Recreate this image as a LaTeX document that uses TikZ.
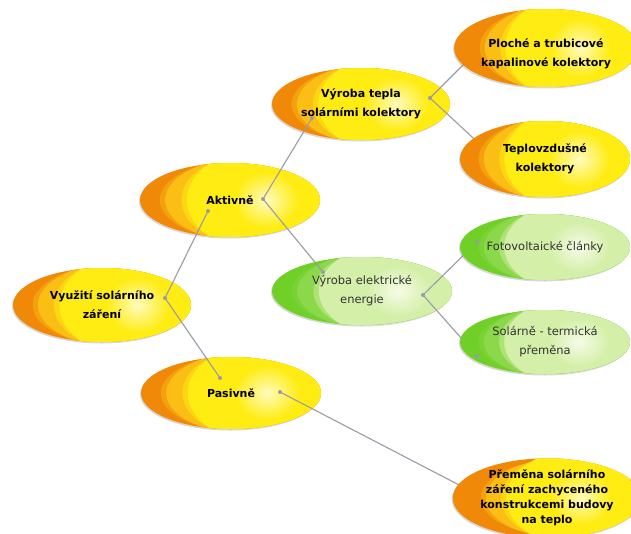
\documentclass[tikz,border=0pt]{standalone}
\usepackage{fontspec}
\setmainfont{DejaVu Sans}
\usetikzlibrary{%
  shapes.geometric,% wg. ellipse
  shadows%
}

\definecolor{sunorange}{RGB}{240,136,8}
\definecolor{sunamber}{RGB}{251,190,20}
\definecolor{sunyellow}{RGB}{255,236,18}
\definecolor{sunpale}{RGB}{255,251,190}
\definecolor{leafgreen}{RGB}{112,208,40}
\definecolor{leafpale}{RGB}{234,246,196}
\definecolor{linkgray}{RGB}{155,155,168}

% bands of a blob: width, height, then five colours from outside to inside
\newcommand{\blobfill}[7]{%
  \fill[#3] ([xshift=0.065*#1]path picture bounding box.center) ellipse [x radius=0.455*#1, y radius=0.54*#2];
  \fill[#4] ([xshift=0.08*#1]path picture bounding box.center) ellipse [x radius=0.44*#1, y radius=0.56*#2];
  \fill[#5] ([xshift=0.125*#1]path picture bounding box.center) ellipse [x radius=0.395*#1, y radius=0.62*#2];
  \fill[#6] ([xshift=0.14*#1]path picture bounding box.center) ellipse [x radius=0.38*#1, y radius=0.66*#2];
  \shade[inner color=#7, outer color=#6] ([xshift=0.2*#1]path picture bounding box.center) ellipse [x radius=0.18*#1, y radius=0.38*#2];
}

\begin{document}
\begin{tikzpicture}[x=1pt, y=-1pt,
  blob/.style={ellipse, inner sep=0pt, align=center,
    drop shadow={opacity=0.3, shadow xshift=-1pt, shadow yshift=-1.5pt}},
  sunnode/.style 2 args={blob, minimum width=#1, minimum height=#2,
    fill=sunorange, font=\fontsize{11}{19}\selectfont\bfseries,
    path picture={\blobfill{#1}{#2}{sunorange!55!sunamber}{sunamber}{sunamber!50!sunyellow}{sunyellow}{sunpale}}},
  leafnode/.style 2 args={blob, minimum width=#1, minimum height=#2,
    fill=leafgreen, text=black!80, font=\fontsize{11.5}{19}\selectfont,
    path picture={\blobfill{#1}{#2}{leafgreen!92!leafpale}{leafgreen!78!leafpale}{leafgreen!50!leafpale}{leafgreen!18!leafpale}{leafpale!40!white}}},
  link/.style={draw=linkgray, line width=1.1pt},
  knot/.style={circle, fill=linkgray, inner sep=0pt, minimum size=4pt}]

\useasboundingbox [fill=white] (0,0) rectangle (631,533);

% -------- inner nodes
\node[sunnode={178pt}{74pt}] (vyuziti) at (102,305) {Využití solárního\\záření};
\node[sunnode={180pt}{74pt}] (aktivne) at (230,200) {Aktivně};
\node[sunnode={180pt}{72pt}] (pasivne) at (231,393) {Pasivně};
\node[sunnode={178pt}{72pt}] (teplo) at (361,104) {Výroba tepla\\solárními kolektory};
\node[leafnode={180pt}{68pt}] (elektrina) at (362,291) {Výroba elektrické\\energie};

% -------- connector ends
\coordinate (vyuziti-out) at (165,298);
\coordinate (aktivne-in) at (208,211);
\coordinate (aktivne-out) at (263,199);
\coordinate (pasivne-in) at (220,378);
\coordinate (pasivne-out) at (280,392);
\coordinate (teplo-in) at (312,118);
\coordinate (teplo-out) at (430,98);
\coordinate (elektrina-in) at (323,272);
\coordinate (elektrina-out) at (423,295);
\coordinate (ploche-in) at (478,50);
\coordinate (vzduch-in) at (485,149);
\coordinate (fotovolt-in) at (477,242);
\coordinate (termika-in) at (477,356);
\coordinate (premena-in) at (490,501);

\draw[link] (vyuziti-out) -- (aktivne-in);
\draw[link] (vyuziti-out) -- (pasivne-in);
\draw[link] (aktivne-out) -- (teplo-in);
\draw[link] (aktivne-out) -- (elektrina-in);
\draw[link] (teplo-out) -- (ploche-in);
\draw[link] (teplo-out) -- (vzduch-in);
\draw[link] (elektrina-out) -- (fotovolt-in);
\draw[link] (elektrina-out) -- (termika-in);
\draw[link] (pasivne-out) -- (premena-in);

% -------- leaves
\node[sunnode={170pt}{78pt}, text height=40pt] (ploche) at (546,48) {Ploché a trubicové\\kapalinové kolektory};
\node[sunnode={170pt}{76pt}] (vzduch) at (545,159) {Teplovzdušné\\kolektory};
\node[leafnode={170pt}{66pt}] (fotovolt) at (545,247) {Fotovoltaické články};
\node[leafnode={170pt}{64pt}] (termika) at (545,342) {Solárně - termická\\přeměna};
\node[sunnode={170pt}{70pt}, font=\fontsize{11}{15}\selectfont\bfseries] (premena) at (547,498)
  {Přeměna solárního\\záření zachyceného\\konstrukcemi budovy\\na teplo};

% -------- knots
\foreach \k in {vyuziti-out, aktivne-in, aktivne-out, pasivne-in, pasivne-out,
  teplo-in, teplo-out, elektrina-in, elektrina-out, fotovolt-in, termika-in}
  \node[knot] at (\k) {};

\end{tikzpicture}
\end{document}
